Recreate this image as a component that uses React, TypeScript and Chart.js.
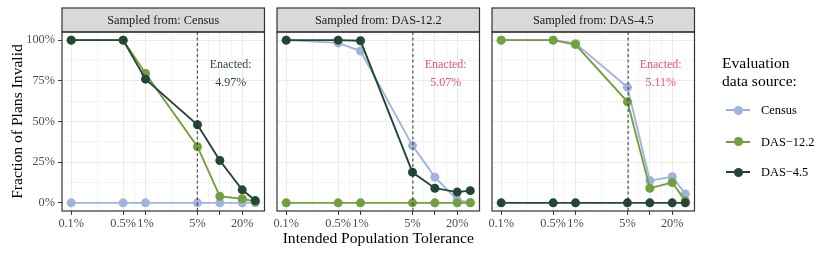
import React, { useEffect, useRef } from 'react';
import { Chart, registerables } from 'chart.js';

Chart.register(...registerables);

// ---------------- data ----------------
const tolerances = [0.1, 0.5, 1, 5, 10, 20, 30]; // intended population tolerance, %
const seriesNames = ['Census', 'DAS-12.2', 'DAS-4.5'];
const panelTitles = ['Sampled from: Census', 'Sampled from: DAS-12.2', 'Sampled from: DAS-4.5'];
const enactedValues = [4.97, 5.07, 5.11];
const enactedLabels = ['4.97%', '5.07%', '5.11%'];

// Panel 1: sampled from Census
const p1Census = [0, 0, 0, 0, 0, 0, 0];
const p1Das122 = [1, 1, 0.795, 0.345, 0.04, 0.025, 0.008];
const p1Das45 = [1, 1, 0.76, 0.48, 0.26, 0.08, 0.014];
// Panel 2: sampled from DAS-12.2
const p2Census = [1, 0.983, 0.933, 0.352, 0.158, 0.018, 0.003];
const p2Das122 = [0, 0, 0, 0, 0, 0, 0];
const p2Das45 = [1, 1, 0.996, 0.188, 0.09, 0.066, 0.075];
// Panel 3: sampled from DAS-4.5
const p3Census = [1, 1, 0.98, 0.71, 0.137, 0.161, 0.055];
const p3Das122 = [1, 1, 0.973, 0.621, 0.09, 0.125, 0.012];
const p3Das45 = [0, 0, 0, 0, 0, 0, 0];

const xBreaks = [0.1, 0.5, 1, 5, 10, 20];
const xTickLabels = ['0.1%', '0.5%', '1%', '5%', '', '20%'];
const yBreaks = [0, 0.25, 0.5, 0.75, 1];
const yTickLabels = ['0%', '25%', '50%', '75%', '100%'];

// ---------------- styles ----------------
const panelValues = [
  [p1Census, p1Das122, p1Das45],
  [p2Census, p2Das122, p2Das45],
  [p3Census, p3Das122, p3Das45],
];
const seriesColors = ['#9EB4DE', '#73A03E', '#244735'];
const enactedColors = ['#2C4C3C', '#E5566F', '#E5566F'];
const FONT = '"Liberation Serif", "Times New Roman", serif';

// ggplot-style expansion (5%) on log x and linear y
const lx0 = Math.log10(tolerances[0]);
const lx1 = Math.log10(tolerances[tolerances.length - 1]);
const xMin = Math.pow(10, lx0 - 0.05 * (lx1 - lx0));
const xMax = Math.pow(10, lx1 + 0.05 * (lx1 - lx0));
const yMin = -0.05;
const yMax = 1.05;

// minor breaks: midpoints in transformed space
const xMinor = xBreaks.slice(1).map((b, i) => Math.sqrt(b * xBreaks[i]));
const yMinor = yBreaks.slice(1).map((b, i) => (b + yBreaks[i]) / 2);

const near = (a: number, b: number) => Math.abs(a - b) < 1e-6 * Math.max(1, Math.abs(b));
const isMajorX = (v: number) => xBreaks.some((b) => near(v, b));
const isMajorY = (v: number) => yBreaks.some((b) => near(v, b));

const ANNOT_X = 14;
const ANNOT_Y = [0.83, 0.718];

const canvasLayout = [
  { left: 0, width: 269, yWidth: 62 },
  { left: 270, width: 214, yWidth: 7 },
  { left: 485, width: 214, yWidth: 7 },
];

function makeChart(canvas: HTMLCanvasElement, panel: number) {
  const datasets = seriesNames.map((name, si) => ({
    label: name,
    data: tolerances.map((t, i) => ({ x: t, y: panelValues[panel][si][i] })),
    borderColor: seriesColors[si],
    backgroundColor: seriesColors[si],
    pointBackgroundColor: seriesColors[si],
    pointBorderColor: seriesColors[si],
    pointBorderWidth: 0,
    pointRadius: 4.5,
    borderWidth: 1.9,
    tension: 0,
    order: 2 - si,
    clip: 8,
  }));

  const facetPlugin = {
    id: 'facet' + panel,
    beforeDraw(chart: any) {
      const { ctx, chartArea } = chart;
      const { left, right, top } = chartArea;
      ctx.save();
      ctx.fillStyle = '#D9D9D9';
      ctx.fillRect(left, 8, right - left, top - 8);
      ctx.fillStyle = '#1A1A1A';
      ctx.font = `12.3px ${FONT}`;
      ctx.textAlign = 'center';
      ctx.textBaseline = 'alphabetic';
      ctx.fillText(panelTitles[panel], (left + right) / 2, 24.4);
      ctx.restore();
    },
    afterDatasetsDraw(chart: any) {
      const { ctx, chartArea, scales } = chart;
      const { left, right, top, bottom } = chartArea;
      const xs = scales.x;
      const ys = scales.y;
      ctx.save();
      // enacted dashed line
      const vx = xs.getPixelForValue(enactedValues[panel]);
      ctx.strokeStyle = 'rgba(30,30,30,0.9)';
      ctx.lineWidth = 1;
      ctx.setLineDash([3, 2.5]);
      ctx.beginPath();
      ctx.moveTo(vx, top);
      ctx.lineTo(vx, bottom);
      ctx.stroke();
      ctx.setLineDash([]);
      // annotation
      ctx.fillStyle = enactedColors[panel];
      ctx.font = `12px ${FONT}`;
      ctx.textAlign = 'center';
      ctx.textBaseline = 'alphabetic';
      const ax = xs.getPixelForValue(ANNOT_X);
      ctx.fillText('Enacted:', ax, ys.getPixelForValue(ANNOT_Y[0]));
      ctx.fillText(enactedLabels[panel], ax, ys.getPixelForValue(ANNOT_Y[1]));
      // borders
      ctx.strokeStyle = '#333333';
      ctx.lineWidth = 1.2;
      ctx.strokeRect(left, 8, right - left, top - 8);
      ctx.strokeRect(left, top, right - left, bottom - top);
      ctx.restore();
    },
  };

  const gridColor = '#EBEBEB';
  const lay = canvasLayout[panel];

  return new Chart(canvas, {
    type: 'line',
    data: { datasets: datasets as any },
    options: {
      animation: false,
      responsive: false,
      events: [],
      layout: { padding: { top: 32, left: 0, right: 1, bottom: 0 } },
      plugins: {
        legend: { display: false },
        tooltip: { enabled: false },
        title: { display: false },
      },
      scales: {
        x: {
          type: 'logarithmic',
          min: xMin,
          max: xMax,
          afterBuildTicks: (s: any) => {
            s.ticks = [...xBreaks, ...xMinor].sort((a, b) => a - b).map((v) => ({ value: v }));
          },
          afterFit: (s: any) => {
            s.height = 45;
          },
          ticks: {
            autoSkip: false,
            maxRotation: 0,
            minRotation: 0,
            padding: 1,
            color: '#4D4D4D',
            font: { family: FONT, size: 12.3 },
            callback: (v: any) => {
              const idx = xBreaks.findIndex((b) => near(Number(v), b));
              return idx >= 0 ? xTickLabels[idx] : '';
            },
          },
          grid: {
            color: (c: any) => gridColor,
            lineWidth: (c: any) => (c.tick && isMajorX(c.tick.value) ? 1.1 : 0.55),
            tickColor: (c: any) => (c.tick && isMajorX(c.tick.value) ? '#333333' : 'rgba(0,0,0,0)'),
            tickLength: 4,
            tickWidth: 1,
            drawTicks: true,
          },
          border: { display: false },
          title:
            panel === 1
              ? {
                  display: true,
                  text: 'Intended Population Tolerance',
                  color: '#000000',
                  font: { family: FONT, size: 15.6 },
                  padding: { top: 0, bottom: 8 },
                }
              : { display: false },
        },
        y: {
          type: 'linear',
          min: yMin,
          max: yMax,
          afterBuildTicks: (s: any) => {
            s.ticks = [...yBreaks, ...yMinor].sort((a, b) => a - b).map((v) => ({ value: v }));
          },
          afterFit: (s: any) => {
            s.width = lay.yWidth;
          },
          ticks: {
            display: panel === 0,
            autoSkip: false,
            padding: 3,
            color: '#4D4D4D',
            font: { family: FONT, size: 12.3 },
            callback: (v: any) => {
              const idx = yBreaks.findIndex((b) => near(Number(v), b));
              return idx >= 0 ? yTickLabels[idx] : '';
            },
          },
          grid: {
            color: (c: any) => gridColor,
            lineWidth: (c: any) => (c.tick && isMajorY(c.tick.value) ? 1.1 : 0.55),
            tickColor: (c: any) => (c.tick && isMajorY(c.tick.value) ? '#333333' : 'rgba(0,0,0,0)'),
            tickLength: 4,
            tickWidth: 1,
            drawTicks: panel === 0,
          },
          border: { display: false },
          title:
            panel === 0
              ? {
                  display: true,
                  text: 'Fraction of Plans Invalid',
                  color: '#000000',
                  font: { family: FONT, size: 15.6 },
                  padding: { top: 9, bottom: 0 },
                }
              : { display: false },
        },
      },
    } as any,
    plugins: [facetPlugin],
  });
}

function Legend() {
  const rowCenters = [110, 141.7, 172.3];
  return (
    <div style={{ position: 'absolute', left: 0, top: 0, width: 830, height: 256, pointerEvents: 'none' }}>
      <div
        style={{
          position: 'absolute',
          left: 722,
          top: 54,
          fontFamily: FONT,
          fontSize: 15.6,
          lineHeight: '18px',
          color: '#000',
          whiteSpace: 'nowrap',
        }}
      >
        Evaluation
        <br />
        data source:
      </div>
      {seriesNames.map((name, i) => (
        <div key={name} style={{ position: 'absolute', left: 726, top: rowCenters[i] - 9, height: 18, width: 100 }}>
          <div
            style={{
              position: 'absolute',
              left: 0,
              top: 8.05,
              width: 24,
              height: 1.9,
              background: seriesColors[i],
            }}
          />
          <div
            style={{
              position: 'absolute',
              left: 12 - 4.5,
              top: 9 - 4.5,
              width: 9,
              height: 9,
              borderRadius: '50%',
              background: seriesColors[i],
            }}
          />
          <div
            style={{
              position: 'absolute',
              left: 35,
              top: 0,
              lineHeight: '18px',
              fontFamily: FONT,
              fontSize: 12.4,
              color: '#000',
              whiteSpace: 'nowrap',
            }}
          >
            {name.replace('-', '\u2212')}
          </div>
        </div>
      ))}
    </div>
  );
}

export default function App() {
  const r0 = useRef<HTMLCanvasElement>(null);
  const r1 = useRef<HTMLCanvasElement>(null);
  const r2 = useRef<HTMLCanvasElement>(null);
  const refs = [r0, r1, r2];

  useEffect(() => {
    const charts = refs.map((r, i) => makeChart(r.current as HTMLCanvasElement, i));
    return () => charts.forEach((c) => c.destroy());
  }, []);

  return (
    <div style={{ position: 'absolute', left: 0, top: 0, width: 830, height: 256, background: '#fff', overflow: 'hidden' }}>
      {canvasLayout.map((l, i) => (
        <canvas
          key={i}
          ref={refs[i]}
          width={l.width}
          height={256}
          style={{ position: 'absolute', left: l.left, top: 0, width: l.width, height: 256 }}
        />
      ))}
      <Legend />
    </div>
  );
}
